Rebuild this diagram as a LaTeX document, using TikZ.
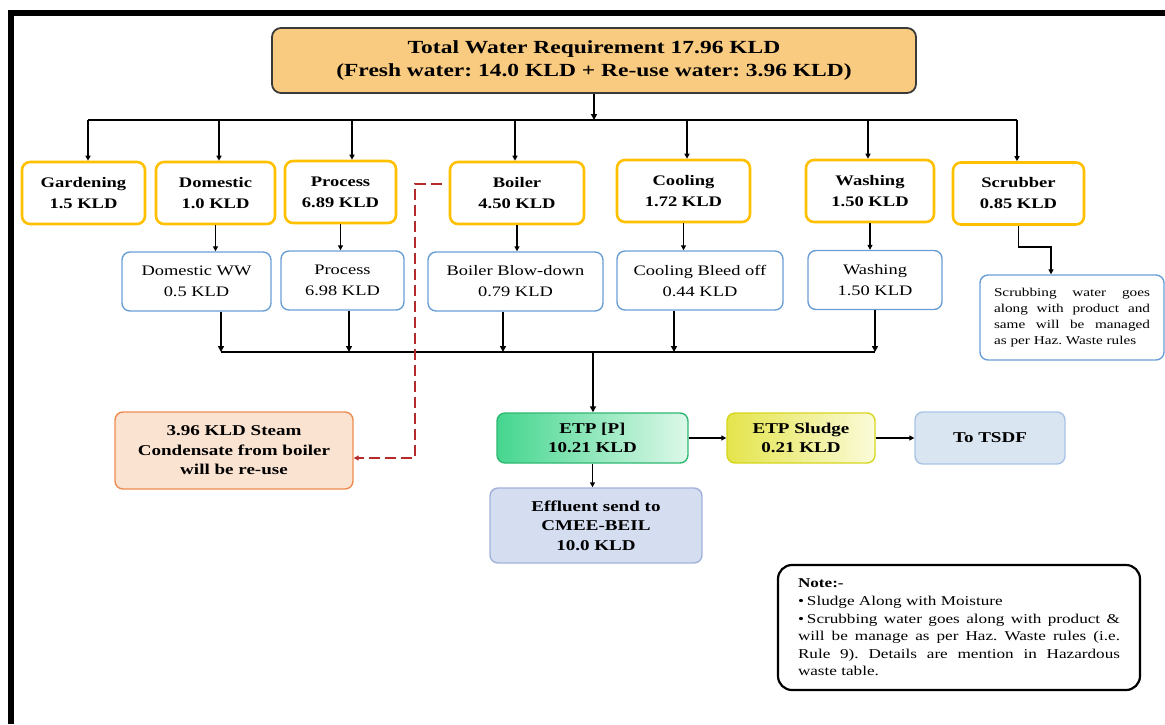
\documentclass[tikz,border=0pt]{standalone}
\usepackage{fontspec}
\setmainfont{Liberation Serif}[FakeStretch=1.27]
\usepackage{tikz}
\usetikzlibrary{shapes,arrows.meta,backgrounds}
\usetikzlibrary{positioning}
\frenchspacing
\definecolor{gold}{HTML}{FFC000}
\definecolor{blueB}{HTML}{6A9FD6}
\definecolor{totF}{HTML}{F9CB80}
\definecolor{totD}{HTML}{3A3A3A}
\definecolor{etpL}{HTML}{45D68F}
\definecolor{etpR}{HTML}{DDF8E9}
\definecolor{etpD}{HTML}{2EB872}
\definecolor{sldL}{HTML}{E4E44C}
\definecolor{sldR}{HTML}{FBFBDA}
\definecolor{sldD}{HTML}{D6D61E}
\definecolor{tsdfF}{HTML}{DAE5F2}
\definecolor{tsdfD}{HTML}{A8C3E3}
\definecolor{effF}{HTML}{D5DDF0}
\definecolor{effD}{HTML}{A2B1DA}
\definecolor{stmF}{HTML}{FBE3D2}
\definecolor{stmD}{HTML}{EE8C50}
\definecolor{redD}{HTML}{B52A2A}
\tikzset{
  boxTot/.style={ draw=totD, fill=totF, line width=1.8pt, rounded corners=9pt, minimum width=644pt, minimum height=65pt, align=center, font=\fontsize{18.5}{23}\selectfont\bfseries }
}
\tikzset{
  boxY/.style={ draw=gold, fill=white, line width=2.6pt, rounded corners=8pt, minimum height=62pt, inner sep=0pt, align=center, font=\fontsize{14.6}{21}\selectfont\bfseries }
}
\tikzset{
  boxB/.style={ draw=blueB, fill=white, line width=1.4pt, rounded corners=8pt, minimum height=59pt, inner sep=0pt, align=center, font=\fontsize{14.5}{21}\selectfont }
}
\tikzset{
  boxC/.style={ line width=1.4pt, rounded corners=8pt, inner sep=0pt, align=center, font=\fontsize{15}{19.5}\selectfont\bfseries }
}
\tikzset{
  arr/.style={ -{Triangle[length=5pt,width=5pt]}, line width=1.6pt }
}
\tikzset{
  arrT/.style={ -{Triangle[length=6pt,width=6pt]}, line width=2.4pt }
}

\begin{document}
\begin{tikzpicture}[x=1pt, y=-1pt]
  \useasboundingbox (0,0) rectangle (1165,724);
  \draw[line width=6pt] (11,724) -- (11,13) -- (1165,13);

  \node[boxTot] (tot) at (594,60.5) {Total Water Requirement 17.96 KLD\\(Fresh water: 14.0 KLD + Re-use water: 3.96 KLD)};

  \node[boxY, minimum width=123pt] (gard) at (83.5,193) {Gardening\\1.5 KLD};
  \node[boxY, minimum width=119pt] (dom) at (215.5,193) {Domestic\\1.0 KLD};
  \node[boxY, minimum width=111pt] (proc) at (340.5,192) {Process\\6.89 KLD};
  \node[boxY, minimum width=134pt] (boil) at (517,193) {Boiler\\4.50 KLD};
  \node[boxY, minimum width=133pt] (cool) at (683.5,191) {Cooling\\1.72 KLD};
  \node[boxY, minimum width=128pt] (wash) at (870,191) {Washing\\1.50 KLD};
  \node[boxY, minimum width=131pt] (scr) at (1018.5,193.5) {Scrubber\\0.85 KLD};

  \node[boxB, minimum width=149pt] (domw) at (196.5,281.5) {Domestic WW\\0.5 KLD};
  \node[boxB, minimum width=123pt] (procw) at (342.5,280.5) {Process\\6.98 KLD};
  \node[boxB, minimum width=175pt] (boilw) at (515.5,281.5) {Boiler Blow-down\\0.79 KLD};
  \node[boxB, minimum width=166pt] (coolw) at (700,280.5) {Cooling Bleed off\\0.44 KLD};
  \node[boxB, minimum width=134pt] (washw) at (875,280) {Washing\\1.50 KLD};
  \node[boxB, minimum width=184pt, minimum height=85pt, text width=156pt, align=justify, font=\fontsize{12}{15.8}\selectfont] (scrn) at (1072,317.5)
    {Scrubbing water goes\linebreak along with product and\linebreak same will be managed\linebreak as per Haz. Waste rules};

  \node[boxC, draw=etpD, left color=etpL, right color=etpR, minimum width=191pt, minimum height=50pt] (etp) at (592.5,438) {ETP [P]\\10.21 KLD};
  \node[boxC, draw=sldD, left color=sldL, right color=sldR, minimum width=148pt, minimum height=50pt] (sld) at (801,438) {ETP Sludge\\0.21 KLD};
  \node[boxC, draw=tsdfD, fill=tsdfF, minimum width=150pt, minimum height=52pt] (tsdf) at (990,438) {To TSDF};
  \node[boxC, draw=effD, fill=effF, minimum width=212pt, minimum height=75pt] (eff) at (596,525.5) {Effluent send to\\CMEE-BEIL\\10.0 KLD};
  \node[boxC, draw=stmD, fill=stmF, minimum width=238pt, minimum height=77pt] (stm) at (234,450.5) {3.96 KLD Steam\\Condensate from boiler\\will be re-use};

  \node[draw, line width=2.2pt, rounded corners=14pt, minimum width=362pt, minimum height=125pt, text width=322pt, inner xsep=20pt, align=justify, font=\fontsize{13.5}{17.6}\selectfont] (note) at (959,627.5)
    {{\bfseries Note:-}\par
     \hangindent=9pt\hangafter=1\noindent\makebox[9pt][l]{\textbullet}Sludge Along with Moisture\par
     \hangindent=9pt\hangafter=1\noindent\makebox[9pt][l]{\textbullet}Scrubbing water goes along with product \&\linebreak will be manage as per Haz. Waste rules (i.e.\linebreak Rule 9). Details are mention in Hazardous\linebreak waste table.};

  % supply header
  \coordinate (hb) at (594,120);
  \coordinate (hbL) at (88,120);
  \coordinate (hbR) at (1017,120);
  \draw[arrT, line width=2.2pt] (tot) -- (hb);
  \draw[line width=2.4pt] (hbL) -- (hbR);
  \foreach \n/\x in {gard/88, dom/219, proc/352, boil/515, cool/687, wash/868, scr/1017}{
    \coordinate (d\n) at (\x,120);
    \draw[arr] (d\n) -- (d\n |- \n.north);
  }
  \foreach \a/\b in {dom/domw, proc/procw, boil/boilw, cool/coolw, wash/washw}
    \draw[arr] (\a.south) -- (\a.south |- \b.north);

  % waste water collector
  \foreach \n/\x in {domw/221, procw/349, boilw/503, coolw/674, washw/875}{
    \coordinate (c\n) at (\x,352);
    \draw[arrT] (c\n |- \n.south) -- (c\n);
  }
  \draw[line width=2.2pt] (cdomw) -- (cwashw);
  \coordinate (cm) at (593,352);
  \draw[arrT] (cm) -- (cm |- etp.north);

  \draw[arr, line width=1.3pt] (etp.east) -- (etp.east -| sld.west);
  \draw[arr, line width=1.3pt] (sld.east) -- (sld.east -| tsdf.west);
  \draw[arr, line width=1.3pt] (etp.south) -- (etp.south |- eff.north);

  \coordinate (k1) at (1051,247);
  \draw[arr] (scr.south) |- (k1) -- (k1 |- scrn.north);

  \coordinate (r1) at (442,184);
  \coordinate (r2) at (415,458);
  \draw[arr, redD, line width=1.3pt, dash pattern=on 11pt off 5pt] (r1) -| (r2) -- (r2 -| stm.east);
\end{tikzpicture}
\end{document}
